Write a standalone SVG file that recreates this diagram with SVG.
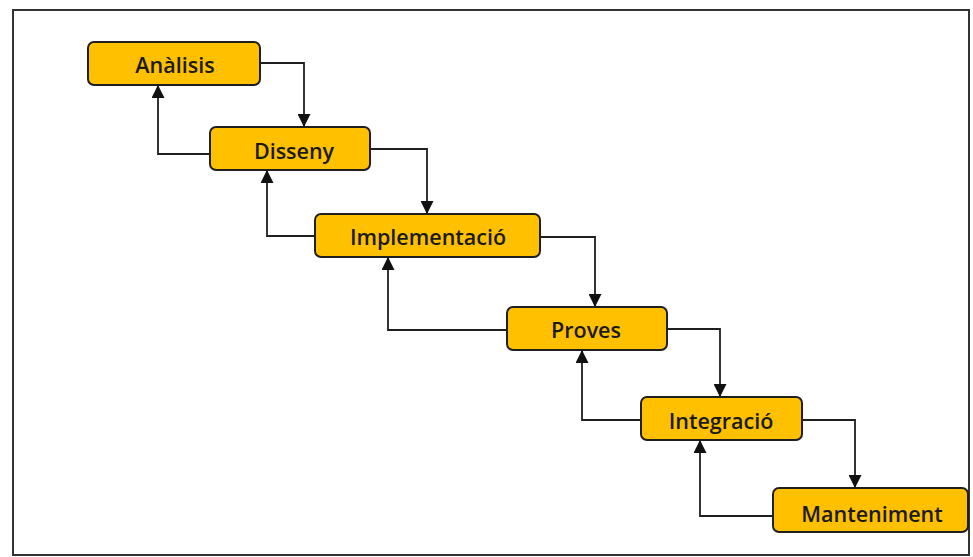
<svg xmlns="http://www.w3.org/2000/svg" width="973" height="557" viewBox="0 0 973 557">
<style>
.node rect{fill:#FFC000;stroke:#1f1f1f;stroke-width:2}
.node text{font-family:"Open Sans","Liberation Sans",sans-serif;font-size:21.5px;font-weight:600;fill:#1a1a1a;text-anchor:middle;dominant-baseline:central}
.conn path{fill:none;stroke:#1f1f1f;stroke-width:1.8}
</style>
<defs>
<marker id="ah" viewBox="0 0 12 12" refX="11" refY="6" markerWidth="13" markerHeight="13" markerUnits="userSpaceOnUse" orient="auto">
<path d="M0,0 L12,6 L0,12 Z" fill="#111"/>
</marker>
</defs>
<rect x="0" y="0" width="973" height="557" fill="#fff"/>
<rect x="13" y="10" width="956" height="545" fill="#fff" stroke="#333" stroke-width="2"/>
<g class="conn">
<path d="M260,63 H304 V126" marker-end="url(#ah)"/>
<path d="M370,149 H427 V213" marker-end="url(#ah)"/>
<path d="M540,237 H595 V306" marker-end="url(#ah)"/>
<path d="M667,329 H720 V396" marker-end="url(#ah)"/>
<path d="M802,420 H855 V487" marker-end="url(#ah)"/>
<path d="M210,154 H158 V86" marker-end="url(#ah)"/>
<path d="M315,236 H267 V171" marker-end="url(#ah)"/>
<path d="M507,330 H388 V258" marker-end="url(#ah)"/>
<path d="M641,420 H582 V351" marker-end="url(#ah)"/>
<path d="M773,516 H700 V441" marker-end="url(#ah)"/>
</g>
<g id="analisis" class="node"><rect x="88" y="42" width="172" height="43" rx="6"/><text x="175" y="64">Anàlisis</text></g>
<g id="disseny" class="node"><rect x="210" y="127" width="160" height="43" rx="6"/><text x="294" y="150">Disseny</text></g>
<g id="implementacio" class="node"><rect x="315" y="214" width="225" height="43" rx="6"/><text x="428" y="236">Implementació</text></g>
<g id="proves" class="node"><rect x="507" y="307" width="160" height="43" rx="6"/><text x="586" y="329">Proves</text></g>
<g id="integracio" class="node"><rect x="641" y="397" width="161" height="43" rx="6"/><text x="721" y="420">Integració</text></g>
<g id="manteniment" class="node"><rect x="773" y="488" width="195" height="44" rx="6"/><text x="872" y="513">Manteniment</text></g>
</svg>
